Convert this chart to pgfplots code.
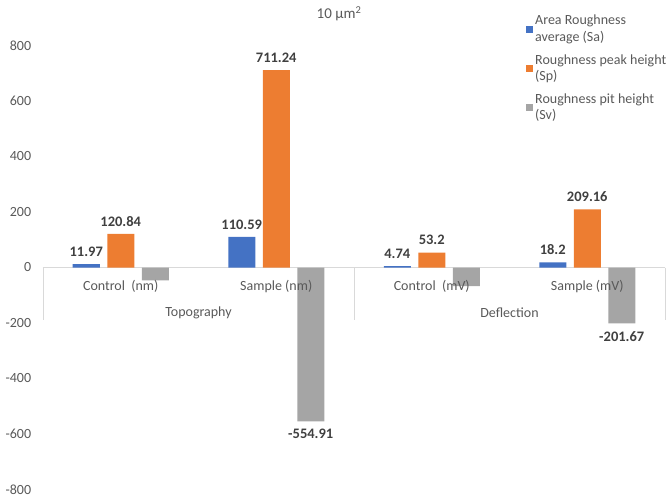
\documentclass[border=0pt]{standalone}
\usepackage{fontspec}
\setmainfont{Carlito}
\usepackage{pgfplots}
\pgfplotsset{compat=1.18}
\definecolor{sablue}{HTML}{4472C4}
\definecolor{sporange}{HTML}{ED7D31}
\definecolor{svgray}{HTML}{A5A5A5}
\definecolor{txt}{HTML}{595959}
\definecolor{lbl}{HTML}{404040}
\definecolor{axl}{HTML}{D9D9D9}
\begin{document}
\fontsize{14}{16}\selectfont
\begin{tikzpicture}[x=1pt,y=1pt]
\path[use as bounding box] (0,0) rectangle (669,498);
\begin{axis}[
  at={(43pt,8.5pt)}, anchor=south west,
  scale only axis, width=622pt, height=444pt,
  xmin=-0.5, xmax=3.5, ymin=-800, ymax=800,
  ybar=7.5pt, bar width=27pt,
  axis line style={draw=none},
  ytick={-800,-600,...,800},
  xtick=\empty,
  major tick length=0pt,
  clip=false,
  yticklabel style={font=\fontsize{14}{16}\selectfont, text=txt, xshift=-7pt},
  /pgf/number format/assume math mode=true,
  point meta=explicit symbolic,
  nodes near coords={\pgfplotspointmeta},
  nodes near coords style={font=\bfseries\fontsize{14.5}{16}\selectfont, text=lbl, inner ysep=7.5pt},
  legend style={at={(0.7717,1.078)}, anchor=north west, draw=none, fill=none,
    font=\fontsize{14}{16.5}\selectfont, text=txt, row sep=7pt,
    cells={anchor=west, align=left, font=\fontsize{14}{16.5}\selectfont}},
  legend image code/.code={\fill[#1] (0pt,-3.5pt) rectangle (7pt,3.5pt);},
]
\draw[axl, line width=0.8pt] (axis cs:-0.5,0) -- (axis cs:3.5,0);
\draw[axl, line width=0.8pt] (axis cs:-0.5,0) -- (axis cs:-0.5,-190);
\draw[axl, line width=0.8pt] (axis cs:1.5,0) -- (axis cs:1.5,-190);
\draw[axl, line width=0.8pt] (axis cs:3.5,0) -- (axis cs:3.5,-190);
\addplot[fill=sablue, draw=none] coordinates {(0,11.97)[11.97] (1,110.59)[110.59] (2,4.74)[4.74] (3,18.2)[18.2]};
\addlegendentry{Area Roughness\\average (Sa)}
\addplot[fill=sporange, draw=none] coordinates {(0,120.84)[120.84] (1,711.24)[711.24] (2,53.2)[53.2] (3,209.16)[209.16]};
\addlegendentry{Roughness peak height\\(Sp)}
\addplot[fill=svgray, draw=none, every node near coord/.append style={anchor=north}] coordinates {(0,-46)[] (1,-554.91)[-554.91] (2,-67)[] (3,-201.67)[-201.67]};
\addlegendentry{Roughness pit height\\(Sv)}
\node[text=txt] at (axis cs:0,-67) {Control\ \ (nm)};
\node[text=txt] at (axis cs:1,-67) {Sample (nm)};
\node[text=txt] at (axis cs:2,-67) {Control\ \ (mV)};
\node[text=txt] at (axis cs:3,-67) {Sample (mV)};
\node[text=txt] at (axis cs:0.5,-164) {Topography};
\node[text=txt] at (axis cs:2.5,-164) {Deflection};
\end{axis}
\node[text=txt, font=\fontsize{15}{17}\selectfont] at (339,484) {10 µm\textsuperscript{2}};
\end{tikzpicture}
\end{document}
